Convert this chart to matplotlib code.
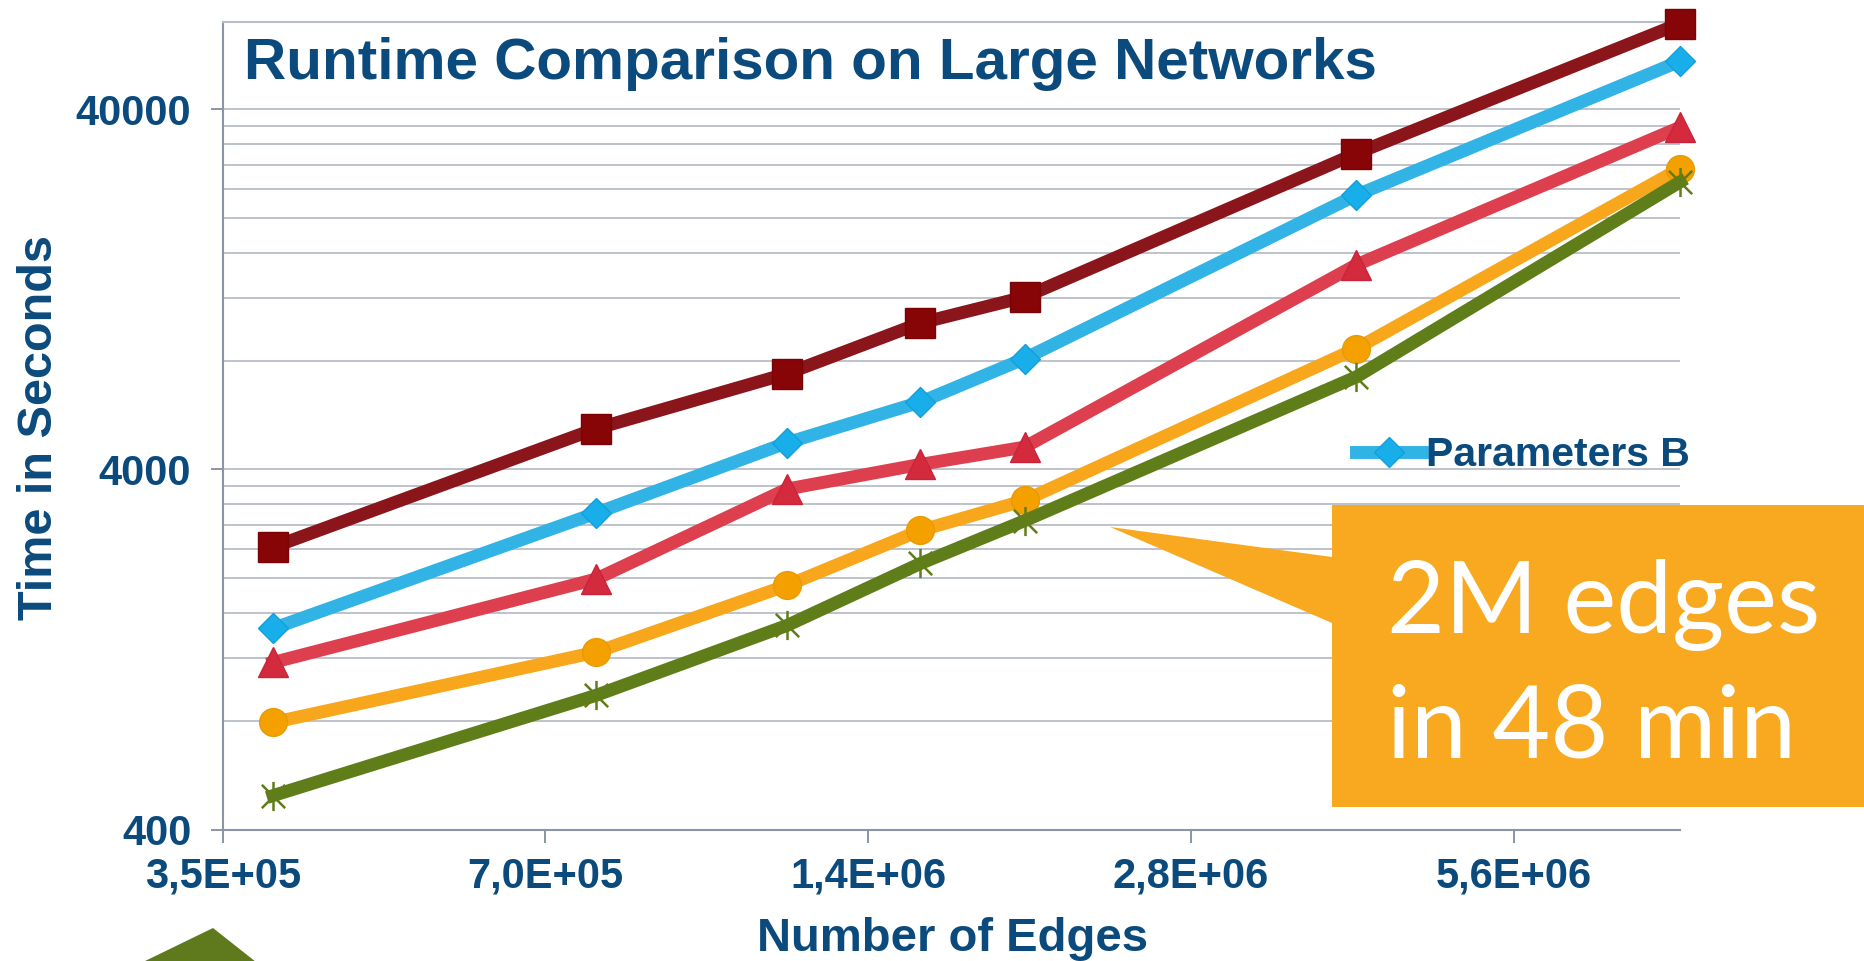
import numpy as np
import matplotlib.pyplot as plt
from matplotlib.path import Path
from matplotlib.patches import Polygon
from matplotlib.ticker import FixedLocator, NullFormatter

plt.rcParams['font.family'] = ['Liberation Sans', 'DejaVu Sans']

# ---------------------------------------------------------------- data
edges = [390000, 780000, 1176000, 1566000, 1958000, 3990000, 8000000]

t_square = [2434, 5188, 7380, 10196, 12041, 30130, 69200]
t_diamond = [1447, 3024, 4744, 6152, 8120, 23077, 54380]
t_triangle = [1164, 1983, 3528, 4130, 4612, 14777, 35650]
t_circle = [793, 1243, 1905, 2708, 3280, 8655, 27370]
t_star = [497, 943, 1475, 2192, 2880, 7219, 25130]

legend_label = 'Parameters B'

x_ticks = [3.5e5, 7.0e5, 1.4e6, 2.8e6, 5.6e6]
x_ticklabels = ['3,5E+05', '7,0E+05', '1,4E+06', '2,8E+06', '5,6E+06']
y_ticks = [400, 4000, 40000]
y_ticklabels = ['400', '4000', '40000']
y_grid = [800, 1200, 1600, 2000, 2400, 2800, 3200, 3600,
          8000, 12000, 16000, 20000, 24000, 28000, 32000, 36000]

# ---------------------------------------------------------------- style
navy = '#0b4a7c'
grid_c = '#b9bdc6'
spine_c = '#8b95a5'
W, H = 1865, 961

# asterisk marker: vertical bar plus an X
star = Path([(0, -1), (0, 1), (-0.8, -0.8), (0.8, 0.8), (-0.8, 0.8), (0.8, -0.8)],
            [Path.MOVETO, Path.LINETO, Path.MOVETO, Path.LINETO, Path.MOVETO, Path.LINETO])

fig = plt.figure(figsize=(W / 100, H / 100), dpi=100)
ax = fig.add_axes([0.1194, 0.1368, 0.7814, 0.8406])

ax.set_xscale('log', base=2)
ax.set_yscale('log')
ax.set_xlim(3.5e5, 8.0e6)
ax.set_ylim(400, 70000)

lw = 9.3
ax.plot(edges, t_square, color='#8a161c', lw=lw, marker='s', ms=21,
        mfc='#870407', mec='#7a0306', clip_on=False, zorder=3)
blue, = ax.plot(edges, t_diamond, color='#31b3e6', lw=lw, marker='D', ms=15,
                mfc='#17aeea', mec='#139fd8', clip_on=False, zorder=3)
ax.plot(edges, t_triangle, color='#dd3f4f', lw=lw, marker='^', ms=22,
        mfc='#d42a3e', mec='#c92439', clip_on=False, zorder=3)
ax.plot(edges, t_circle, color='#f8a61b', lw=lw, marker='o', ms=20,
        mfc='#f4a100', mec='#e99a00', clip_on=False, zorder=3)
ax.plot(edges, t_star, color='#5f7d19', lw=lw, marker=star, ms=21,
        mfc='none', mec='#5f7d19', mew=1.8, clip_on=False, zorder=3)

# axes, ticks and grid
ax.set_xticks(x_ticks)
ax.set_xticklabels(x_ticklabels)
ax.xaxis.set_minor_locator(FixedLocator([]))
ax.set_yticks(y_ticks)
ax.set_yticklabels(y_ticklabels)
ax.yaxis.set_minor_locator(FixedLocator(y_grid))
ax.yaxis.set_minor_formatter(NullFormatter())

ax.grid(True, axis='y', which='both', color=grid_c, lw=1.3, zorder=0)
ax.set_axisbelow(True)

ax.tick_params(axis='x', which='major', length=9.4, width=1.4, color=spine_c,
               pad=10, labelsize=30, labelcolor=navy)
ax.tick_params(axis='y', which='major', length=8.6, width=1.4, color=spine_c,
               pad=14, labelsize=30, labelcolor=navy)
ax.tick_params(axis='y', which='minor', length=0)
for lab in ax.get_xticklabels() + ax.get_yticklabels():
    lab.set_fontweight('bold')

for s in ['left', 'bottom', 'top']:
    ax.spines[s].set_color(spine_c)
    ax.spines[s].set_linewidth(1.5)
ax.spines['top'].set_color(grid_c)
ax.spines['right'].set_visible(False)

# titles and labels
fig.text(244 / W, 1 - 79 / H, 'Runtime Comparison on Large Networks',
         fontsize=42, fontweight='bold', color=navy, va='baseline')
fig.text(953 / W, 1 - 951 / H, 'Number of Edges', fontsize=34,
         fontweight='bold', color=navy, ha='center', va='baseline')
fig.text(40 / W, 1 - 428 / H, 'Time in Seconds', fontsize=35, rotation=90,
         fontweight='bold', color=navy, ha='center', va='center')

leg = ax.legend(handles=[blue], labels=[legend_label], loc='center left',
                bbox_to_anchor=(1356 / W, 1 - 455 / H), bbox_transform=fig.transFigure,
                frameon=False, handlelength=1.6, handletextpad=0.1,
                borderpad=0, borderaxespad=0,
                prop={'size': 29.5, 'weight': 'bold'})
for t in leg.get_texts():
    t.set_color(navy)

# speech bubble
def px(pts):
    return [(x / W, 1 - y / H) for x, y in pts]

bubble = [(1110, 527), (1332, 557), (1332, 505), (1866, 505),
          (1866, 807), (1332, 807), (1332, 623)]
fig.patches.append(Polygon(px(bubble), closed=True, transform=fig.transFigure,
                           facecolor='#f9a91f', edgecolor='none', zorder=5))
for txt, base in [('2M edges', 633), ('in 48 min', 758)]:
    fig.text(1387 / W, 1 - base / H, txt, fontsize=72, color='white',
             family=['Lato', 'DejaVu Sans'], fontweight='normal',
             va='baseline', zorder=6)

# green corner shape
corner = [(213, 928), (143, 962), (256, 962)]
fig.patches.append(Polygon(px(corner), closed=True, transform=fig.transFigure,
                           facecolor='#5e7a1c', edgecolor='none', zorder=5))

fig.savefig('out.png', dpi=100)
